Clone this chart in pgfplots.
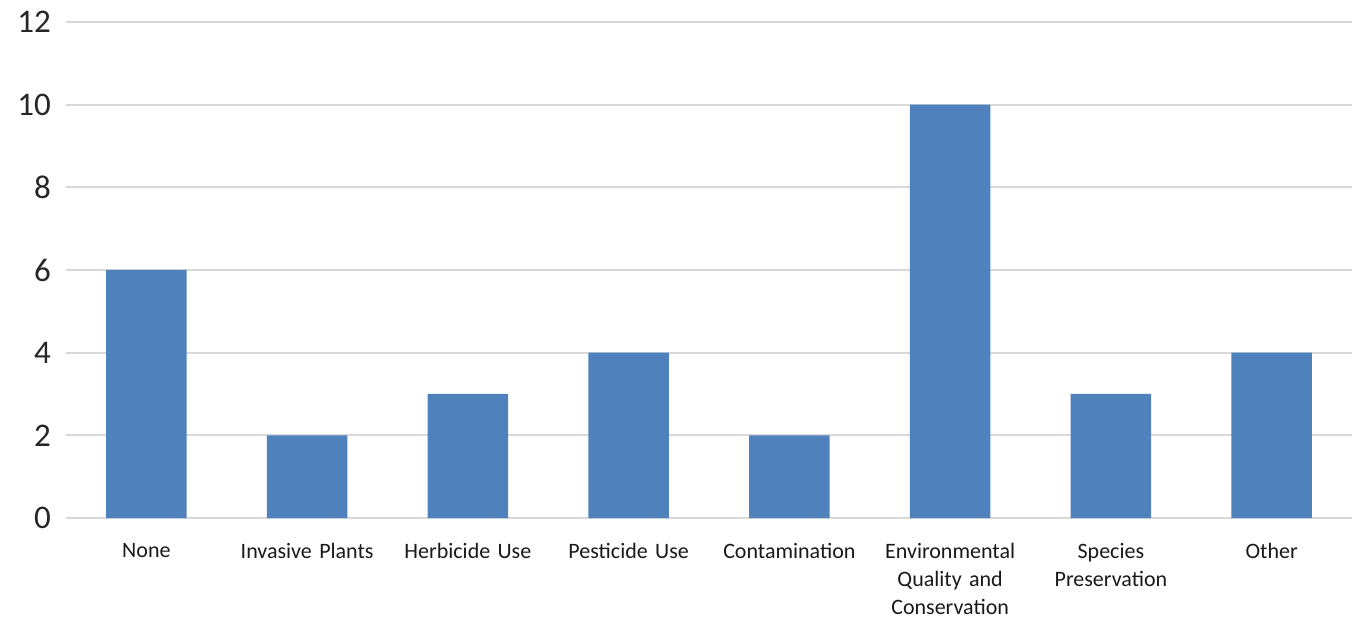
\documentclass[border=0pt]{standalone}
\usepackage{pgfplots}
\pgfplotsset{compat=1.18}
\usepackage{fontspec}
\setmainfont{Carlito}
\definecolor{barblue}{HTML}{4F81BD}
\definecolor{gridgray}{HTML}{D9D9D9}
\begin{document}
\begin{tikzpicture}
\begin{axis}[
  name=ax,
  width=643pt, height=248pt,
  scale only axis,
  xmin=-0.5, xmax=7.5,
  ymin=0, ymax=12,
  ytick={0,2,...,12},
  xtick={0,...,7},
  xticklabels={None,Invasive Plants,Herbicide Use,Pesticide Use,Contamination,{Environmental\\Quality and\\Conservation},{Species\\Preservation},Other},
  axis line style={draw=none},
  major tick length=0pt,
  ymajorgrids,
  grid style={gridgray, line width=1pt},
  yticklabel style={font=\fontsize{16.5}{17}\selectfont, text=black!85, xshift=-4pt},
  xticklabel style={font=\fontsize{11}{14}\selectfont, align=center, text width=80pt, yshift=-9pt, anchor=north, text=black!90},
  /pgf/number format/assume math mode=true,
  clip=false,
]
\addplot[ybar, bar width=0.5, fill=barblue, draw=none] coordinates {
(0,6) (1,2) (2,3) (3,4) (4,2) (5,10) (6,3) (7,4)
};
\end{axis}
\pgfresetboundingbox
\path[use as bounding box] ([shift={(-33pt,-53pt)}]ax.south west) rectangle ([shift={(4pt,11pt)}]ax.north east);
\end{tikzpicture}
\end{document}
